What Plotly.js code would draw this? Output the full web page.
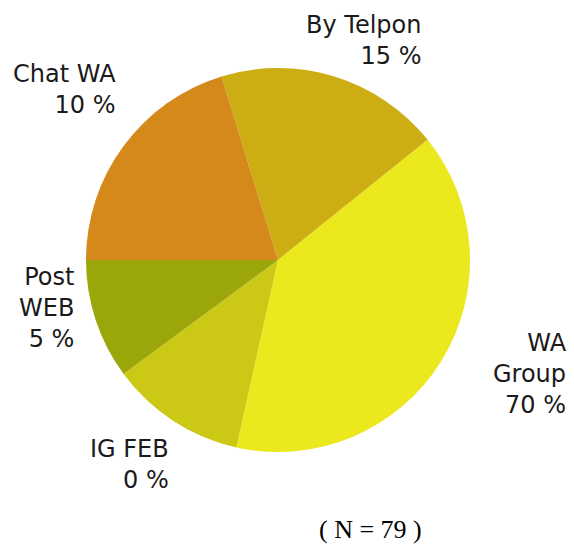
<!DOCTYPE html>
<html>
<head>
<meta charset="utf-8">
<script src="https://cdn.plot.ly/plotly-3.0.1.min.js"></script>
<style>html,body{margin:0;padding:0;background:#fff;}#chart{width:574px;height:548px;}</style>
</head>
<body>
<div id="chart"></div>
<script>
// Slice sizes (respondent counts, N = 79)
const categories = ["By Telpon", "WA Group", "IG FEB", "Post WEB", "Chat WA"];
const counts = [15, 31, 9, 8, 16];
// Label texts as printed on the chart
const labelLines = [["By Telpon"], ["WA", "Group"], ["IG FEB"], ["Post", "WEB"], ["Chat WA"]];
const percentLabels = ["15 %", "70 %", "0 %", "5 %", "10 %"];
const colors = ["#CCAE14", "#EBE81E", "#CBC816", "#9BA60A", "#D4891A"];
const noteText = "( N = 79 )";

// Label placement (paper coords): right edge x, vertical centre y
const labelPos = [
  {x: 423 / 574, y: 1 - 40 / 548},
  {x: 569 / 574, y: 1 - 374 / 548},
  {x: 171 / 574, y: 1 - 464 / 548},
  {x: 76 / 574, y: 1 - 308 / 548},
  {x: 118 / 574, y: 1 - 90 / 548}
];

const annotations = categories.map((c, i) => ({
  xref: "paper", yref: "paper",
  x: labelPos[i].x, y: labelPos[i].y,
  xanchor: "right", yanchor: "middle", align: "right",
  showarrow: false,
  text: labelLines[i].concat([percentLabels[i]]).join("<br>"),
  font: {family: "DejaVu Sans", size: 24, color: "#1a1a1a"}
}));
annotations.push({
  xref: "paper", yref: "paper", x: 370 / 574, y: 1 - 529 / 548,
  xanchor: "center", yanchor: "middle", showarrow: false,
  text: noteText,
  font: {family: "Liberation Serif", size: 26, color: "#000"}
});

const data = [{
  type: "pie",
  labels: categories,
  values: counts,
  sort: false,
  direction: "clockwise",
  rotation: -17.1,
  textinfo: "none",
  hoverinfo: "label+value",
  marker: {colors: colors, line: {width: 0}},
  domain: {x: [86 / 574, 470 / 574], y: [96 / 548, 480 / 548]},
  showlegend: false
}];

const layout = {
  width: 574, height: 548, autosize: false,
  margin: {l: 0, r: 0, t: 0, b: 0},
  paper_bgcolor: "#ffffff",
  showlegend: false,
  annotations: annotations
};

Plotly.newPlot("chart", data, layout, {staticPlot: true});
</script>
</body>
</html>
